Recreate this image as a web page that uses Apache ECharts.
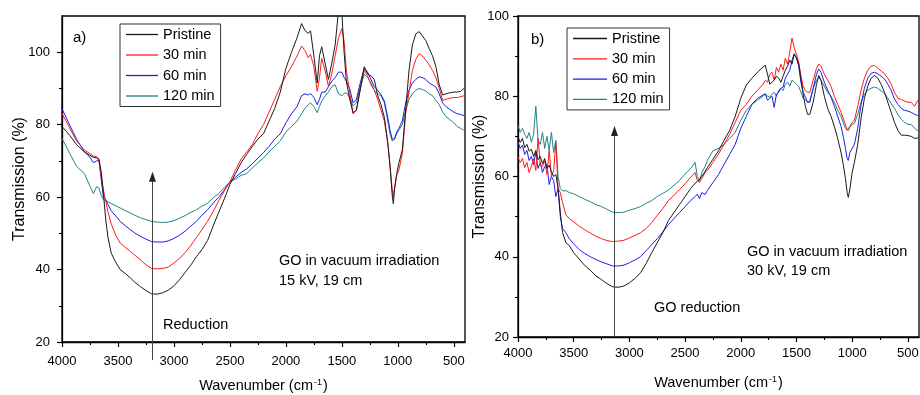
<!DOCTYPE html>
<html><head><meta charset="utf-8">
<script src="https://cdn.jsdelivr.net/npm/echarts@6/dist/echarts.min.js"></script>
<style>html,body{margin:0;padding:0;background:#fff}#c{width:920px;height:395px}</style>
</head><body><div id="c"></div>
<script>
const NAMES = ['Pristine', '30 min', '60 min', '120 min'];
const COLORS = ['#1a1a1a', '#ff1a1a', '#1c1cf0', '#1f8585'];

const X_TICKS = [4000, 3500, 3000, 2500, 2000, 1500, 1000, 500];
const X_MINOR = [3750, 3250, 2750, 2250, 1750, 1250, 750];
const Y_TICKS = [20, 40, 60, 80, 100];
const Y_MINOR = [30, 50, 70, 90];

// Panel a)
const X_A = [4000,3930,3870,3800,3750,3720,3690,3670,3650,3630,
3610,3590,3560,3520,3480,3430,3390,3350,3300,3250,
3200,3150,3100,3050,3000,2950,2900,2850,2800,2750,
2700,2650,2600,2550,2500,2450,2400,2350,2300,2250,
2200,2150,2100,2050,2000,1950,1900,1860,1830,1800,
1780,1750,1720,1700,1680,1650,1620,1590,1560,1530,
1500,1480,1460,1430,1400,1370,1340,1300,1270,1240,
1210,1180,1150,1120,1090,1070,1050,1040,1030,1010,
990,960,930,900,870,840,810,780,750,720,
690,660,630,600,570,540,500,470,440,410];
const A_P = [79.5,77,74.5,72.5,71.5,71,70.8,70.5,67,61,
54,49,44.5,42,40,38.8,37.7,36.5,35.3,34.2,
33.3,33.2,33.6,34.3,35.5,37.2,39.2,41.2,43.5,45.5,
48,52,55.8,59.5,63.5,66.5,69.5,71.8,74,76,
77.5,81,84.5,89,95.5,100,104,107.9,106,105.2,
105.9,99,91.5,99,101.5,97,92.5,97,102,111.5,
111,100,92,87,83.3,84,89,96,94,93.5,
92.5,88,85.5,82,75,68.5,60.5,58.2,62,66.5,
69.5,73,84,95,102,105,105.7,104.5,103.2,101,
99,96,91,88.2,88.5,88.8,89,89,89.2,90];
const A_30 = [83.1,79,75.5,73,72,71.3,71.2,70,66,62,
59,56,52.5,49.5,47.3,46,45,44,42.7,41.3,
40.3,40.2,40.3,40.7,41.8,43.1,44.7,46.6,48.8,51,
53.3,56,59,61.7,64.2,67.5,70.5,72.5,74.5,77.5,
80,83.5,87,90.5,93.5,96,99,101.7,100.5,98.5,
99.4,96,89.2,93,98.3,95,90.6,94,99,104,
106.5,103,95,89,83,84,89,95.1,93.5,91,
89.5,87,84,81,75,69,62,60,62.5,66,
67.5,72,83,89,95,98,99.6,99,97.8,96.5,
95,93,90,86.7,87,87.3,87.5,87.5,87.7,88];
const A_60 = [84.4,79.8,76,72.5,71,69.5,70,70.2,65,60,
59.4,58,56.2,54.8,53.3,52,51,50.1,49.2,48.4,
47.7,47.6,47.6,47.9,48.6,49.5,50.6,52,53.3,55,
56.5,58.3,60,62,64.2,65.5,66.8,67.8,69.2,70.8,
72.3,74,76,77.5,80.5,83,85,88,88.5,88.2,
88.6,87.5,85.5,87,89,89,90.5,92,93,94.5,
94.5,93,92,90,86,87,91,95.5,94.5,92.5,
90.5,89.5,88.3,86.5,82,78.5,76,75.7,76,78,
79,81,86,89.5,91.5,92.5,93.2,93,92.5,91.5,
91,90.4,88.5,86,85,84.3,83.5,83,82.8,82.5];
const A_120 = [76.2,72,68.5,66.5,63,61,62.9,62.5,60.5,59.3,
59,58.7,58.2,57.6,57,56.2,55.6,55,54.3,53.8,
53.3,53.1,53,53.1,53.5,54.2,54.9,55.8,56.5,57.5,
58.3,59.8,61,62.7,64.2,65,66,66.5,68,69.5,
70.8,72.5,74,75.5,78,79.5,81,83,84.5,85.5,
86,85,83.3,85,86.5,87.9,89,90.5,91,88.5,
88,88.6,88.8,87.5,85.2,86,90,94,93,91.5,
89.5,88.5,88,86,81,77.5,75.5,75.3,76,77.5,
78.5,80,84,87,88.5,89.5,90,89.7,89.3,88.5,
88,86.7,85.5,83.5,82.2,81.5,80.5,79.5,79,78.5];

// Panel b)
const X_B = [4000,3980,3960,3940,3920,3900,3880,3860,3840,3820,
3800,3780,3760,3740,3720,3700,3680,3660,3640,3620,3600,
3570,3540,3500,3450,
3400,3350,3300,3250,3200,3150,3100,3050,3000,2950,
2900,2850,2800,2750,2700,2650,2600,2550,2500,2450,
2410,2390,2370,2350,2320,2300,2250,2200,2150,2100,
2050,2000,1950,1900,1850,1800,1780,1760,1740,1720,
1700,1680,1660,1640,1620,1600,1580,1560,1540,1520,
1500,1480,1460,1440,1420,1400,1380,1350,1320,1300,
1280,1250,1220,1190,1160,1130,1100,1080,1060,1045,
1035,1020,1000,980,950,920,890,860,830,800,
770,740,710,680,650,620,590,560,530,500,
470,440,410];
const B_P = [69.8,68.5,69.5,67.2,68,66.3,66.8,65,66.5,64.2,
65,63.2,64.5,62,62.8,61.2,60,60.5,57,51,46,
43.5,42.8,41,39.4,
37.8,36.6,35.2,34.3,33.3,32.5,32.4,32.7,33.5,34.6,
36,38.3,41,43.5,46,49,51,53,55,57,
58.3,58.8,59.3,60,61.3,62.2,64.3,66.4,69,71.5,
75,79.5,82.8,84.5,86,87.3,87.7,85.5,83,83.5,
84,85,84.5,83.5,85,86.5,87.5,89,88,90.5,
89.5,88,84.5,80.5,77.5,75.5,75.5,78.5,83,85.2,
84,80,77,75,72.5,69.5,66,63,59.5,56,
54.8,57,61,63.5,68,74.5,79.5,82.5,84.5,85.2,
84.5,83,81,78.5,76,73.5,71.5,70.3,70.3,70.2,
70,69.5,69.6];
const B_30 = [64.8,63.5,64.5,62.2,63.5,61,62.5,64.5,61.5,69.5,
63,62.5,64,60.5,66.5,60,61.5,68.5,57,56,53.5,
50.5,49.5,48.7,47.6,
46.7,45.9,45.1,44.5,44,43.8,43.9,44.1,44.7,45.3,
46,47,48.5,50.3,52,54,55.3,56.7,58.2,59.8,
61,59,58.5,59.5,61,61.5,63.5,65.6,68,70.5,
73.5,76.5,78,80,81.5,83,84,83.5,85.5,86,
84,87.2,86,88,86.5,89.5,88,91,94.5,92,
90.5,88.5,85,82.5,81.4,81,81,84,87,88,
87.5,85.5,84,82.5,80,78,76,74.5,72.8,71.6,
71.4,72.5,73.5,74,77.5,81.5,84.5,86.5,87.5,87.7,
87,86.3,85.6,84.5,83,81,79.5,79.2,78.8,78.5,
78.5,77.5,79];
const B_60 = [68.6,67,67.8,65.5,66.5,64,65,63,66,62,
63.5,61,62.5,63,58,60,59,55,57,50,47,
46,44.5,43.2,41.8,
40.8,40,39.3,38.7,38.2,37.7,37.7,37.9,38.5,39.2,
40,41.5,43,44.5,46.2,48,49.5,51,52.5,54,
55,55.6,54.5,56,55.5,56.5,58.5,60.5,63,65.5,
68,72,75,78,79.5,80.3,80.6,79,79.5,80,
77.2,80.5,81,82,82.3,84.5,85.5,86.5,89,90.6,
89.5,87.5,83.5,81,79.8,78.5,78.5,82,85.5,86.8,
86,83.5,81.5,79.8,77.5,75,72.5,70,67,64.5,
64,66,67,68,72,78,82,84.5,85.7,86,
85.6,85,84.3,83,81.5,79.3,78,77,76.5,76.3,
76,75.5,75.2];
const B_120 = [72.7,71,72,70.5,69.5,71,68.5,70.5,77.5,69,
68,71,67,70,66.5,71,66,69,60,57,56.4,
56.5,56,55.7,55,
54.3,53.7,53,52.5,51.8,51.1,51,51.1,51.6,52,
52.5,53.3,54,55,55.8,56.6,57.8,59,60.6,62,
63.5,60,58.9,61,62.5,64,66.4,67,68,69.5,
71,74,76.5,78,79,80,80.6,80,79.8,80.5,
81,80,81.5,82,81.4,83,83.5,82.5,84,83.5,
83,82.5,81,79.5,79,78.5,78.8,82,84,84.7,
84,82.5,81,80,78.5,76.5,75,73.5,72,71.6,
71.4,72.3,73,73.2,75.5,78.5,80.5,81.5,82,82.3,
82,81.3,80.7,79.5,78.2,77,75.5,74.3,73.5,73,
73,72,71.4];

// arrows: [wavenumber, from %, to %]
const ARROW_A = [3200, 15, 67];
const ARROW_B = [3140, 20, 72.6];

const FONT = '"Liberation Sans", Arial, Helvetica, sans-serif';
const zip = (xs, ys) => xs.map((x, i) => [x, ys[i]]);
const plain = v => String(v);

function mainX(grid, nameGap, margin) {
  return {
    type: 'value', gridIndex: grid, min: 400, max: 4000, inverse: true, position: 'bottom',
    axisLine: { show: true, lineStyle: { color: '#000', width: 1.3 } },
    axisTick: { show: true, inside: false, length: 5, customValues: X_TICKS, lineStyle: { color: '#000', width: 1.2 } },
    axisLabel: { show: true, customValues: X_TICKS, formatter: plain, margin: margin, color: '#000', fontSize: 13, fontFamily: FONT },
    splitLine: { show: false },
    name: 'Wavenumber (cm{sup|-1})', nameLocation: 'middle', nameGap: nameGap,
    nameTextStyle: { color: '#000', fontSize: 14.5, fontFamily: FONT,
      rich: { sup: { fontSize: 9, fontFamily: FONT, color: '#000', verticalAlign: 'top', lineHeight: 9, padding: [0, 1, 8, 1] } } }
  };
}
function minorX(grid) {
  return {
    type: 'value', gridIndex: grid, min: 400, max: 4000, inverse: true, position: 'bottom',
    axisLine: { show: false },
    axisTick: { show: true, inside: false, length: 3, customValues: X_MINOR, lineStyle: { color: '#000', width: 1.1 } },
    axisLabel: { show: false }, splitLine: { show: false }
  };
}
function mainY(grid, max, nameGap, margin) {
  return {
    type: 'value', gridIndex: grid, min: 20, max: max, position: 'left',
    axisLine: { show: true, lineStyle: { color: '#000', width: 1.3 } },
    axisTick: { show: true, inside: false, length: 5, customValues: Y_TICKS, lineStyle: { color: '#000', width: 1.2 } },
    axisLabel: { show: true, customValues: Y_TICKS, formatter: plain, margin: margin, color: '#000', fontSize: 13, fontFamily: FONT },
    splitLine: { show: false },
    name: 'Transmission (%)', nameLocation: 'middle', nameGap: nameGap, nameRotate: 90, nameMoveOverlap: false,
    nameTextStyle: { color: '#000', fontSize: 16, fontFamily: FONT }
  };
}
function minorY(grid, max) {
  return {
    type: 'value', gridIndex: grid, min: 20, max: max, position: 'left',
    axisLine: { show: false },
    axisTick: { show: true, inside: false, length: 3, customValues: Y_MINOR, lineStyle: { color: '#000', width: 1.1 } },
    axisLabel: { show: false }, splitLine: { show: false }
  };
}

const dataA = [A_P, A_30, A_60, A_120];
const dataB = [B_P, B_30, B_60, B_120];
const series = [];
dataA.forEach((ys, i) => series.push({
  name: NAMES[i], type: 'line', xAxisIndex: 0, yAxisIndex: 0, data: zip(X_A, ys),
  symbol: 'none', smooth: false, clip: true, lineStyle: { color: COLORS[i], width: 1 }, itemStyle: { color: COLORS[i] }, z: 10 - i
}));
dataB.forEach((ys, i) => series.push({
  name: NAMES[i], type: 'line', xAxisIndex: 2, yAxisIndex: 2, data: zip(X_B, ys),
  symbol: 'none', smooth: false, clip: true, lineStyle: { color: COLORS[i], width: 1 }, itemStyle: { color: COLORS[i] }, z: 10 - i
}));

function legend(left, top, w, gap) {
  return {
    data: NAMES.map((n, i) => ({ name: n, icon: 'rect', itemStyle: { color: COLORS[i], borderWidth: 0 } })),
    orient: 'vertical', left: left, top: top, selectedMode: false,
    itemWidth: w, itemHeight: 1.3, itemGap: gap, padding: [3, 6, 3, 6],
    borderColor: '#333', borderWidth: 1, backgroundColor: '#fff',
    textStyle: { color: '#000', fontSize: 14.5, lineHeight: 14, fontFamily: FONT }
  };
}

const chart = echarts.init(document.getElementById('c'), null, { renderer: 'canvas' });
chart.setOption({
  animation: false,
  backgroundColor: '#fff',
  grid: [
    { left: 62, top: 16, width: 403, height: 326, show: true, borderColor: '#000', borderWidth: 1.3, containLabel: false, outerBoundsMode: 'none' },
    { left: 518, top: 16, width: 401, height: 321, show: true, borderColor: '#000', borderWidth: 1.3, containLabel: false, outerBoundsMode: 'none' }
  ],
  xAxis: [mainX(0, 36, 13), minorX(0), mainX(1, 38, 10), minorX(1)],
  yAxis: [mainY(0, 110, 34, 12), minorY(0, 110), mainY(1, 100, 30, 9), minorY(1, 100)],
  legend: [legend(120, 24, 32, 5.5), legend(567, 28, 34, 5.3)],
  series: series
});

function arrowGraphics(seriesIndex, arr) {
  const p0 = chart.convertToPixel({ seriesIndex: seriesIndex }, [arr[0], arr[1]]);
  const p1 = chart.convertToPixel({ seriesIndex: seriesIndex }, [arr[0], arr[2]]);
  const x = Math.round(p0[0]) + 0.5;
  return [
    { type: 'line', shape: { x1: x, y1: p0[1], x2: x, y2: p1[1] + 6 }, style: { stroke: '#444', lineWidth: 1 }, z: 20 },
    { type: 'polygon', shape: { points: [[x, p1[1]], [x - 3.5, p1[1] + 10], [x + 3.5, p1[1] + 10]] }, style: { fill: '#222' }, z: 20 }
  ];
}
function txt(x, y, t, size) {
  return { type: 'text', x: x, y: y, style: { text: t, fill: '#000', font: size + 'px ' + FONT, verticalAlign: 'middle', align: 'left' }, z: 30 };
}

chart.setOption({
  graphic: [].concat(
    arrowGraphics(0, ARROW_A),
    arrowGraphics(4, ARROW_B),
    [
      txt(73, 38, 'a)', 15),
      txt(531, 40, 'b)', 15),
      txt(279, 261, 'GO in vacuum irradiation', 14.5),
      txt(279, 281, '15 kV, 19 cm', 14.5),
      txt(163, 325, 'Reduction', 14.5),
      txt(747, 252, 'GO in vacuum irradiation', 14.5),
      txt(747, 271, '30 kV, 19 cm', 14.5),
      txt(654, 308, 'GO reduction', 14.5)
    ]
  )
});
</script></body></html>
